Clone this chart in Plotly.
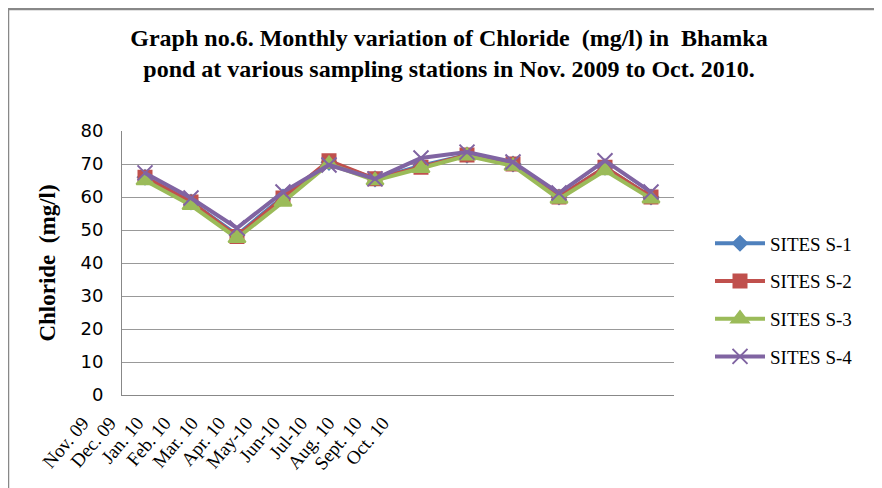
import plotly.graph_objects as go

months = ["Nov. 09", "Dec. 09", "Jan. 10", "Feb. 10", "Mar. 10", "Apr. 10",
          "May-10", "Jun-10", "Jul-10", "Aug. 10", "Sept. 10", "Oct. 10"]

site_s1 = [66, 58.5, 48.5, 60, 70.5, 65.5, 69.5, 72.7, 70, 60, 69, 60]
site_s2 = [66, 58.5, 48, 59.7, 71, 65.5, 69, 72.7, 70, 60, 69, 60]
site_s3 = [65, 57.5, 47.5, 58.5, 70, 65, 68.7, 72.5, 69.4, 59.4, 68, 59.5]
site_s4 = [67.3, 59.7, 50.6, 61.5, 69.7, 65.5, 71.8, 73.6, 70.6, 61.2, 71, 61.5]

series = [
    ("SITES S-1", site_s1, "#4F81BD", "diamond", 11),
    ("SITES S-2", site_s2, "#C0504D", "square", 13),
    ("SITES S-3", site_s3, "#9BBB59", "triangle-up", 15),
    ("SITES S-4", site_s4, "#8064A2", "x-thin-open", 15),
]

# page body adds an 8px offset; paper spans fig x 40..666
L, R = 40, 216
PW = 882 - L - R

fig = go.Figure()
for i, (name, vals, color, symbol, size) in enumerate(series):
    fig.add_trace(
        go.Scatter(
            x=months,
            y=vals,
            mode="lines+markers",
            name=name,
            legendgroup=str(i),
            line=dict(color=color, width=4),
            marker=dict(symbol=symbol, size=size, color=color,
                        line=dict(color=color, width=2)),
        )
    )

# empty trace so the label axis (x2/y2) gets drawn
fig.add_trace(
    go.Scatter(x=months, y=site_s1, xaxis="x2", yaxis="y2", mode="none",
               showlegend=False, hoverinfo="skip")
)

# outer chart border (cut off on right and bottom)
fig.add_shape(
    type="rect", xref="paper", yref="paper",
    x0=(0 - L) / PW, x1=(900 - L) / PW,
    y0=(387 - 520) / 264, y1=(387 - 1) / 264,
    line=dict(color="#888888", width=2.5),
)

fig.update_layout(
    width=882,
    height=488,
    margin=dict(l=L, r=R, t=123, b=101),
    paper_bgcolor="white",
    plot_bgcolor="rgba(0,0,0,0)",
    title=dict(
        text="Graph no.6. Monthly variation of Chloride  (mg/l) in  Bhamka<br>pond at various sampling stations in Nov. 2009 to Oct. 2010.",
        x=0.5, xanchor="center", y=0.922, yanchor="middle",
        font=dict(family="Liberation Serif", size=24, color="black", weight="bold"),
    ),
    legend=dict(
        x=(702 - L) / PW, xanchor="left", y=0.36, yanchor="middle",
        font=dict(family="Liberation Serif", size=19, color="black"),
        tracegroupgap=10,
        itemwidth=50,
    ),
    showlegend=True,
    xaxis=dict(
        domain=[(114 - L) / PW, 1],
        anchor="y",
        showgrid=False,
        showline=True, linecolor="#888888", linewidth=1,
        showticklabels=False,
        range=[-0.5, 11.5],
        automargin=False,
    ),
    yaxis=dict(
        anchor="x",
        range=[0, 80], dtick=10,
        showgrid=True, gridcolor="#999999", gridwidth=1,
        showline=True, linecolor="#888888", linewidth=1,
        zeroline=False,
        ticks="",
        ticklabelstandoff=14,
        automargin=False,
        tickfont=dict(family="DejaVu Sans", size=18, color="black"),
        title=dict(text="Chloride  (mg/l)", standoff=18,
                   font=dict(family="Liberation Serif", size=23, color="black", weight="bold")),
    ),
    # category labels sit in a narrower band, as in the original picture
    xaxis2=dict(
        domain=[(61 - L) / PW, (61 + 327.6 - L) / PW],
        anchor="y2",
        range=[-0.5, 11.5],
        tickangle=-50,
        ticklabelstandoff=12,
        tickfont=dict(family="Liberation Serif", size=19, color="black"),
        showgrid=False, showline=False, zeroline=False,
        automargin=False,
    ),
    yaxis2=dict(
        domain=[0, 0.005],
        anchor="x2",
        visible=False,
        showgrid=False, zeroline=False,
    ),
)

fig.write_html("out.html")
